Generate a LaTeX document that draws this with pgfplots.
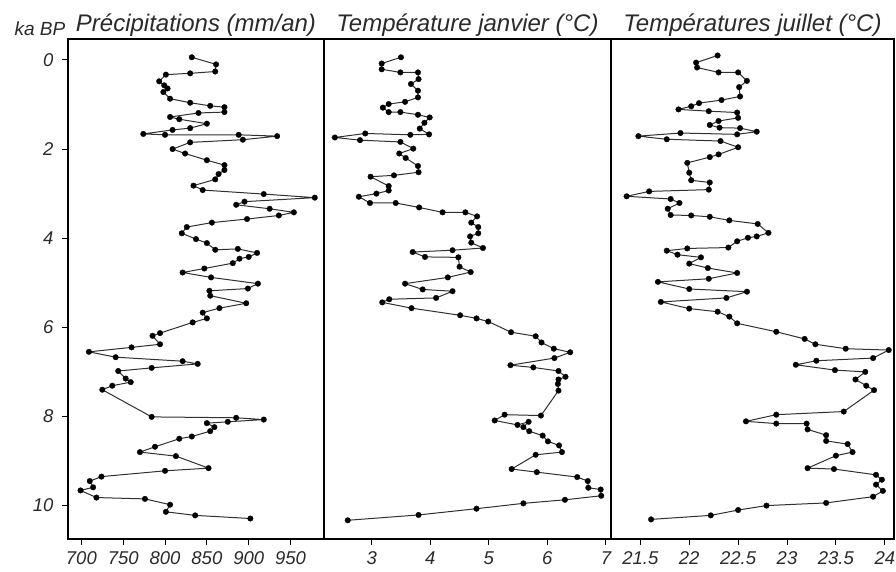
\documentclass[border=0pt]{standalone}
\usepackage{pgfplots}
\pgfplotsset{compat=1.18}
\usepackage{fontspec}
\setmainfont{Liberation Sans}
\definecolor{titlegray}{HTML}{2A2A2A}
\definecolor{linegray}{HTML}{303030}
\pgfplotsset{
  ser/.style={linegray, line width=1pt, mark=*, mark size=2.8pt, mark options={fill=black, draw=black, line width=0.3pt}},
  panel/.style={
    scale only axis, height=500pt, anchor=south west,
    y dir=reverse, ymin=-0.47, ymax=10.75,
    axis line style={black, line width=1.3pt},
    tick align=outside, xtick pos=left, ytick pos=left,
    major tick length=6pt,
    tick style={black, line width=1pt},
    ticklabel style={font=\itshape\fontsize{18.5}{18.5}\selectfont, text=titlegray},
    xticklabel style={yshift=-3pt},
    yticklabel style={xshift=-5pt},
    /pgf/number format/assume math mode=true,
    title style={font=\itshape\fontsize{24}{24}\selectfont, text=titlegray, at={(0.5,1)}, anchor=base, yshift=1.5pt},
  }
}
\begin{document}
\begin{tikzpicture}
\path[use as bounding box] (0,0) rectangle (896pt,572pt);
\node[anchor=base west, font=\itshape\fontsize{19}{19}\selectfont, text=titlegray] at (11pt,536pt) {ka BP};
% Panel 1
\begin{axis}[panel, at={(68pt,33pt)}, width=256pt,
  xmin=684, xmax=990, xtick={700,750,800,850,900,950},
  ytick={0,2,4,6,8,10},
  title={Précipitations (mm/an)}]
\addplot[ser] coordinates {
(832,-0.06) (861,0.10) (860,0.26) (830,0.30) (801,0.33) (793,0.48) (799,0.57) (803,0.64) (798,0.72) (806,0.87)
(830,0.96) (854,1.03) (871,1.06) (871,1.17) (840,1.19) (806,1.28) (817,1.33) (850,1.43) (830,1.53) (809,1.57)
(774,1.66) (800,1.68) (888,1.68) (934,1.71) (893,1.79) (830,1.85) (809,2.00) (824,2.10) (850,2.25) (871,2.36)
(871,2.47) (864,2.56) (860,2.68) (834,2.82) (845,2.92) (918,3.01) (979,3.09) (895,3.18) (885,3.25) (925,3.34)
(954,3.42) (936,3.49) (898,3.57) (856,3.65) (826,3.75) (820,3.89) (837,4.02) (850,4.11) (860,4.26) (887,4.24)
(910,4.33) (900,4.42) (889,4.46) (881,4.56) (847,4.68) (821,4.77) (855,4.88) (911,5.02) (899,5.13) (853,5.18)
(854,5.29) (897,5.46) (865,5.57) (845,5.67) (850,5.80) (833,5.89) (794,6.13) (785,6.19) (794,6.38) (760,6.45)
(709,6.55) (741,6.67) (821,6.76) (839,6.82) (784,6.91) (744,6.98) (753,7.15) (759,7.23) (737,7.31) (725,7.40)
(784,8.01) (885,8.03) (918,8.07) (875,8.12) (850,8.15) (859,8.24) (854,8.33) (832,8.45) (817,8.50) (788,8.68)
(770,8.80) (813,8.89) (852,9.16) (800,9.22) (724,9.35) (710,9.45) (714,9.59) (699,9.66) (718,9.82) (776,9.85)
(806,9.98) (801,10.14) (836,10.22) (902,10.29)
};
\end{axis}
% Panel 2
\begin{axis}[panel, at={(324pt,33pt)}, width=287pt,
  xmin=2.185, xmax=7.087, xtick={3,4,5,6,7},
  ytick=\empty,
  title={Température janvier (°C)}]
\addplot[ser] coordinates {
(3.50,-0.06) (3.17,0.08) (3.17,0.21) (3.49,0.28) (3.79,0.28) (3.80,0.43) (3.67,0.54) (3.79,0.69) (3.79,0.84) (3.57,0.94)
(3.29,0.99) (3.19,1.07) (3.29,1.17) (3.49,1.17) (3.79,1.23) (3.99,1.29) (3.90,1.41) (3.82,1.54) (3.98,1.67) (3.66,1.68)
(2.89,1.65) (2.37,1.74) (2.80,1.80) (3.49,1.84) (3.71,1.99) (3.47,2.10) (3.58,2.20) (3.79,2.38) (3.80,2.52) (3.38,2.59)
(2.98,2.62) (3.29,2.83) (3.29,2.93) (3.08,3.00) (2.78,3.07) (2.97,3.21) (3.41,3.21) (3.81,3.31) (4.21,3.42) (4.60,3.42)
(4.80,3.51) (4.70,3.65) (4.82,3.75) (4.82,3.89) (4.68,3.96) (4.70,4.10) (4.90,4.22) (4.38,4.27) (3.70,4.31) (3.91,4.42)
(4.48,4.43) (4.50,4.64) (4.69,4.76) (4.30,4.88) (3.57,5.02) (3.87,5.15) (4.38,5.19) (4.10,5.34) (3.30,5.37) (3.18,5.44)
(3.68,5.57) (4.51,5.73) (4.79,5.80) (4.99,5.87) (5.38,6.11) (5.80,6.20) (5.90,6.34) (6.11,6.48) (6.39,6.56) (6.12,6.69)
(5.37,6.85) (5.76,6.90) (6.19,6.98) (6.31,7.11) (6.19,7.17) (6.18,7.27) (6.19,7.42) (5.89,7.98) (5.27,7.96) (5.10,8.09)
(5.49,8.19) (5.68,8.12) (5.59,8.24) (5.69,8.33) (5.92,8.43) (6.01,8.56) (6.20,8.65) (6.25,8.80) (5.80,8.86) (5.39,9.18)
(5.82,9.25) (6.51,9.36) (6.69,9.45) (6.70,9.60) (6.91,9.64) (6.92,9.78) (6.30,9.87) (5.59,9.95) (4.79,10.07) (3.80,10.21)
(2.59,10.33)
};
\end{axis}
% Panel 3
\begin{axis}[panel, at={(611pt,33pt)}, width=283pt,
  xmin=21.2, xmax=24.094, xtick={21.5,22,22.5,23,23.5,24},
  ytick=\empty,
  title={Températures juillet (°C)}]
\addplot[ser] coordinates {
(22.29,-0.10) (22.07,0.06) (22.08,0.17) (22.30,0.28) (22.50,0.28) (22.59,0.47) (22.51,0.61) (22.52,0.82) (22.33,0.90) (22.10,0.97)
(22.02,1.04) (21.89,1.11) (22.20,1.15) (22.49,1.18) (22.50,1.30) (22.30,1.37) (22.21,1.46) (22.31,1.52) (22.52,1.53) (22.69,1.61)
(22.49,1.67) (21.91,1.64) (21.48,1.71) (21.77,1.78) (22.32,1.82) (22.50,1.96) (22.30,2.12) (22.21,2.18) (21.98,2.31) (22.00,2.53)
(22.02,2.70) (22.21,2.75) (22.20,2.91) (21.59,2.95) (21.36,3.06) (21.81,3.12) (21.90,3.21) (21.78,3.34) (21.81,3.48) (22.02,3.49)
(22.21,3.52) (22.41,3.60) (22.70,3.68) (22.81,3.88) (22.69,3.96) (22.60,3.99) (22.49,4.07) (22.40,4.21) (21.98,4.23) (21.77,4.28)
(21.88,4.37) (22.12,4.43) (22.00,4.57) (22.19,4.67) (22.49,4.78) (22.20,4.91) (21.68,4.98) (22.00,5.14) (22.59,5.20) (22.38,5.34)
(21.71,5.43) (22.00,5.58) (22.29,5.65) (22.41,5.76) (22.49,5.91) (22.89,6.10) (23.18,6.26) (23.29,6.38) (23.60,6.48) (24.04,6.51)
(23.88,6.69) (23.30,6.75) (23.09,6.84) (23.49,6.96) (23.80,7.00) (23.70,7.17) (23.81,7.31) (23.89,7.41) (23.58,7.89) (22.89,7.96)
(22.58,8.11) (22.89,8.16) (23.20,8.16) (23.21,8.29) (23.40,8.42) (23.40,8.55) (23.62,8.62) (23.67,8.80) (23.50,8.88) (23.21,9.16)
(23.48,9.18) (23.91,9.31) (23.97,9.42) (23.91,9.53) (23.98,9.67) (23.88,9.80) (23.40,9.94) (22.79,10.00) (22.50,10.10) (22.22,10.22)
(21.61,10.31)
};
\end{axis}
\end{tikzpicture}
\end{document}
